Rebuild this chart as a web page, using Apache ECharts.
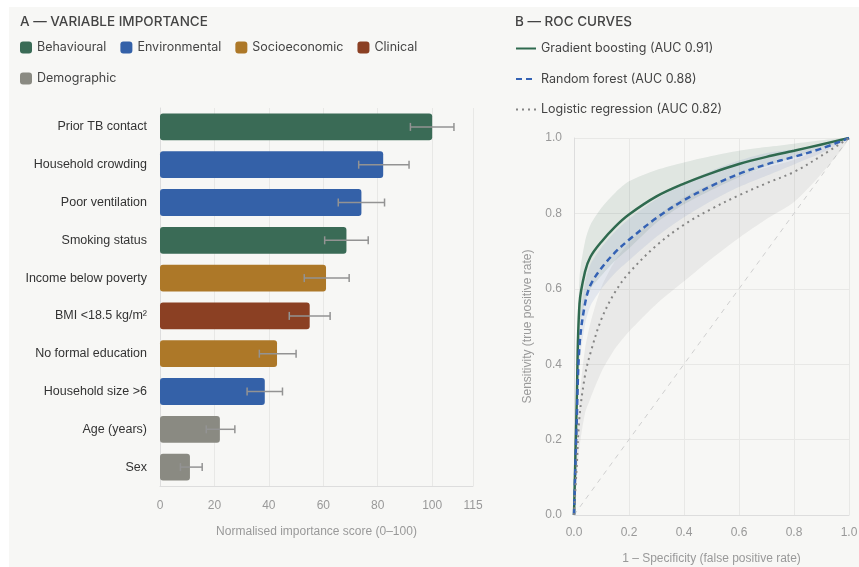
<!DOCTYPE html>
<html>
<head>
<meta charset="utf-8">
<script src="https://cdn.jsdelivr.net/npm/echarts@6/dist/echarts.min.js"></script>
<style>
  html, body { margin: 0; padding: 0; background: #ffffff; }
  #bg { position: absolute; left: 9px; top: 7px; width: 850px; height: 560px; background: #f7f7f5; }
  #main { position: absolute; left: 0; top: 0; width: 859px; height: 567px; }
</style>
</head>
<body>
<div id="bg"></div>
<div id="main"></div>
<script>
// panel A - variable importance
var variables = ['Prior TB contact', 'Household crowding', 'Poor ventilation', 'Smoking status',
  'Income below poverty', 'BMI <18.5 kg/m²', 'No formal education', 'Household size >6', 'Age (years)', 'Sex'];
var varGroup = ['Behavioural', 'Environmental', 'Environmental', 'Behavioural', 'Socioeconomic',
  'Clinical', 'Socioeconomic', 'Environmental', 'Demographic', 'Demographic'];
var importance = [100, 82, 74, 68.5, 61, 55, 43, 38.5, 22, 11];
var errLow = [92, 73, 65.5, 60.5, 53, 47.5, 36.5, 32, 17, 7.5];
var errHigh = [108, 91.5, 82.5, 76.5, 69.5, 62.5, 50, 45, 27.5, 15.5];
var groups = ['Behavioural', 'Environmental', 'Socioeconomic', 'Clinical', 'Demographic'];
var groupColors = ['#3a6b56', '#3461a8', '#ad7828', '#8b4023', '#8a8a82'];
var impTicks = [0, 20, 40, 60, 80, 100, 115];

// panel B - ROC curves
var fpr = [0, 0.01, 0.02, 0.04, 0.06, 0.1, 0.15, 0.2, 0.3, 0.4, 0.5, 0.6, 0.7, 0.8, 0.9, 1.0];
var gbTpr = [0, 0.3, 0.56, 0.645, 0.685, 0.725, 0.765, 0.797, 0.845, 0.879, 0.907, 0.931, 0.95, 0.966, 0.983, 1.0];
var gbUpper = [0, 0.33, 0.63, 0.725, 0.77, 0.815, 0.855, 0.885, 0.915, 0.935, 0.952, 0.966, 0.976, 0.985, 0.994, 1.0];
var gbLower = [0, 0.27, 0.49, 0.565, 0.6, 0.635, 0.675, 0.707, 0.775, 0.824, 0.862, 0.896, 0.925, 0.948, 0.972, 1.0];
var rfTpr = [0, 0.25, 0.45, 0.56, 0.61, 0.655, 0.697, 0.73, 0.788, 0.835, 0.873, 0.905, 0.93, 0.95, 0.972, 1.0];
var rfUpper = [0, 0.28, 0.5, 0.615, 0.665, 0.71, 0.752, 0.785, 0.838, 0.88, 0.913, 0.94, 0.96, 0.97, 0.984, 1.0];
var rfLower = [0, 0.22, 0.4, 0.505, 0.555, 0.6, 0.642, 0.675, 0.738, 0.79, 0.833, 0.87, 0.9, 0.93, 0.96, 1.0];
var lrTpr = [0, 0.13, 0.26, 0.37, 0.43, 0.52, 0.592, 0.642, 0.715, 0.77, 0.812, 0.848, 0.88, 0.91, 0.953, 1.0];
var lrUpper = [0, 0.16, 0.31, 0.44, 0.51, 0.605, 0.675, 0.722, 0.792, 0.843, 0.878, 0.9, 0.922, 0.942, 0.972, 1.0];
var lrLower = [0, 0.09, 0.18, 0.27, 0.31, 0.38, 0.442, 0.487, 0.56, 0.62, 0.68, 0.735, 0.785, 0.83, 0.905, 1.0];
var models = ['Gradient boosting (AUC 0.91)', 'Random forest (AUC 0.88)', 'Logistic regression (AUC 0.82)'];

var uiFont = 'Inter, "Noto Sans", sans-serif';
var axFont = '"Liberation Sans", Arial, sans-serif';

function pairs(xs, ys) {
	return xs.map(function (x, i) { return [x, ys[i]]; });
}

function bandSeries(upper, lower, color) {
	return {
		type: 'custom',
		xAxisIndex: 1,
		yAxisIndex: 1,
		z: 2,
		silent: true,
		data: [[0, 0]],
		renderItem: function (params, api) {
			var pts = [];
			for (var i = 0; i < fpr.length; i++) pts.push(api.coord([fpr[i], upper[i]]));
			for (var j = fpr.length - 2; j > 0; j--) pts.push(api.coord([fpr[j], lower[j]]));
			return {
				type: 'polygon',
				shape: { points: pts, smooth: 0.25 },
				style: { fill: color }
			};
		}
	};
}

var barSeries = groups.map(function (g, k) {
	return {
		name: g,
		type: 'bar',
		stack: 'imp',
		xAxisIndex: 0,
		yAxisIndex: 0,
		barCategoryGap: '29%',
		itemStyle: { color: groupColors[k], borderRadius: 3 },
		data: importance.map(function (v, i) { return varGroup[i] === g ? v : '-'; })
	};
});

var errSeries = {
	type: 'custom',
	xAxisIndex: 0,
	yAxisIndex: 0,
	z: 5,
	silent: true,
	data: variables.map(function (c, i) { return [errLow[i], errHigh[i], i]; }),
	encode: { x: [0, 1], y: 2 },
	renderItem: function (params, api) {
		var a = api.coord([api.value(0), api.value(2)]);
		var b = api.coord([api.value(1), api.value(2)]);
		var st = { stroke: '#939393', lineWidth: 1.5 };
		return {
			type: 'group',
			children: [
				{ type: 'line', shape: { x1: a[0], y1: a[1], x2: b[0], y2: b[1] }, style: st },
				{ type: 'line', shape: { x1: a[0], y1: a[1] - 4, x2: a[0], y2: a[1] + 4 }, style: st },
				{ type: 'line', shape: { x1: b[0], y1: b[1] - 4, x2: b[0], y2: b[1] + 4 }, style: st }
			]
		};
	}
};

var rocLines = [
	{ name: models[0], data: pairs(fpr, gbTpr), lineStyle: { color: '#2f6a4f', width: 2.5, type: 'solid' } },
	{ name: models[1], data: pairs(fpr, rfTpr), lineStyle: { color: '#3462b4', width: 2.5, type: [6, 4] } },
	{ name: models[2], data: pairs(fpr, lrTpr), lineStyle: { color: '#858585', width: 2, type: [2, 4] } }
].map(function (s) {
	return {
		name: s.name,
		type: 'line',
		xAxisIndex: 1,
		yAxisIndex: 1,
		z: 4,
		symbol: 'none',
		smooth: 0.35,
		itemStyle: { color: s.lineStyle.color },
		lineStyle: s.lineStyle,
		data: s.data
	};
});

var legendText = { fontFamily: uiFont, fontSize: 12.5, color: '#444' };

var chart = echarts.init(document.getElementById('main'), null, { renderer: 'canvas' });
chart.setOption({
	animation: false,
	backgroundColor: 'transparent',
	title: [
		{ text: 'A — VARIABLE IMPORTANCE', left: 20, top: 15, padding: 0, textStyle: { fontFamily: uiFont, fontSize: 13.5, fontWeight: 500, color: '#444' } },
		{ text: 'B — ROC CURVES', left: 515, top: 15, padding: 0, textStyle: { fontFamily: uiFont, fontSize: 13.5, fontWeight: 500, color: '#444' } }
	],
	legend: [
		{
			data: groups.slice(0, 4),
			left: 20, top: 41, padding: 0,
			icon: 'roundRect', itemWidth: 12, itemHeight: 12, itemGap: 14,
			textStyle: legendText
		},
		{
			data: groups.slice(4),
			left: 20, top: 72, padding: 0,
			icon: 'roundRect', itemWidth: 12, itemHeight: 12, itemGap: 14,
			textStyle: legendText
		},
		{
			data: models,
			left: 515, top: 42, padding: 0, orient: 'vertical',
			itemWidth: 20, itemHeight: 10, itemGap: 17.5,
			itemStyle: { opacity: 0 },
			textStyle: legendText
		}
	],
	grid: [
		{ left: 160, right: 386, top: 108, bottom: 81, outerBoundsMode: 'none' },
		{ left: 574, right: 10, top: 138, bottom: 52, outerBoundsMode: 'none' }
	],
	xAxis: [
		{
			gridIndex: 0, type: 'value', min: 0, max: 115, interval: 20,
			name: 'Normalised importance score (0–100)', nameLocation: 'middle', nameGap: 40,
			nameTextStyle: { fontFamily: axFont, fontSize: 12, color: '#999' },
			axisLine: { show: true, lineStyle: { color: '#dddddd' } },
			splitLine: { show: true, lineStyle: { color: '#e8e8e6' } },
			axisLabel: {
				fontFamily: axFont, fontSize: 12, color: '#999', margin: 14,
				customValues: impTicks
			},
			axisTick: { show: false, customValues: impTicks }
		},
		{
			gridIndex: 1, type: 'value', min: 0, max: 1, interval: 0.2,
			name: '1 – Specificity (false positive rate)', nameLocation: 'middle', nameGap: 38,
			nameTextStyle: { fontFamily: axFont, fontSize: 12, color: '#999' },
			axisLine: { show: true, lineStyle: { color: '#dddddd' } },
			axisTick: { show: false },
			splitLine: { show: true, lineStyle: { color: '#e8e8e6' } },
			axisLabel: { fontFamily: axFont, fontSize: 12, color: '#999', margin: 12, formatter: function (v) { return v.toFixed(1); } }
		}
	],
	yAxis: [
		{
			gridIndex: 0, type: 'category', inverse: true, data: variables,
			axisLine: { show: true, lineStyle: { color: '#dddddd' } },
			axisTick: { show: false },
			axisLabel: { fontFamily: axFont, fontSize: 12.5, color: '#333', margin: 13 }
		},
		{
			gridIndex: 1, type: 'value', min: 0, max: 1, interval: 0.2,
			name: 'Sensitivity (true positive rate)', nameLocation: 'middle', nameGap: 40,
			nameTextStyle: { fontFamily: axFont, fontSize: 12, color: '#999' },
			axisLine: { show: true, lineStyle: { color: '#dddddd' } },
			axisTick: { show: false },
			splitLine: { show: true, lineStyle: { color: '#e8e8e6' } },
			axisLabel: { fontFamily: axFont, fontSize: 12, color: '#999', margin: 12, formatter: function (v) { return v.toFixed(1); } }
		}
	],
	series: barSeries.concat([errSeries]).concat([
		{
			type: 'line', xAxisIndex: 1, yAxisIndex: 1, z: 1, silent: true, symbol: 'none',
			lineStyle: { color: '#cfcfcf', width: 1, type: [5, 5] },
			data: [[0, 0], [1, 1]]
		},
		bandSeries(gbUpper, gbLower, 'rgba(58,107,86,0.12)'),
		bandSeries(rfUpper, rfLower, 'rgba(60,100,180,0.10)'),
		bandSeries(lrUpper, lrLower, 'rgba(120,120,120,0.10)')
	]).concat(rocLines)
});
</script>
</body>
</html>
